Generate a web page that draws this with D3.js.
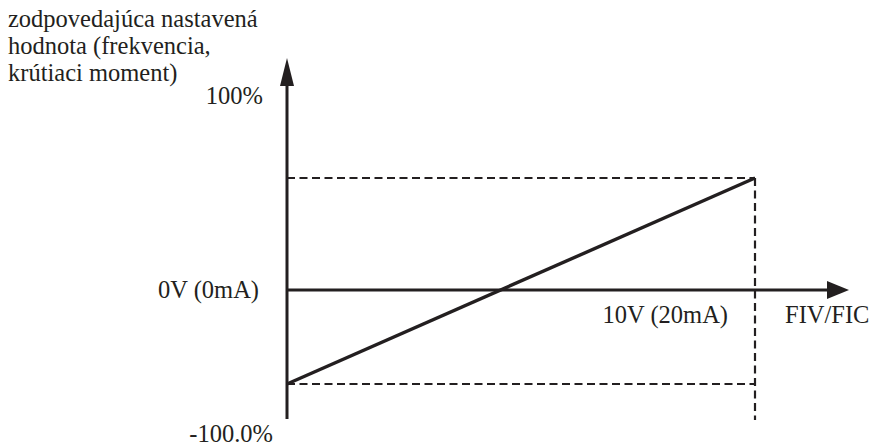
<!DOCTYPE html>
<html>
<head>
<meta charset="utf-8">
<script src="https://cdn.jsdelivr.net/npm/d3@7"></script>
<style>
html,body{margin:0;padding:0;background:#fff;}
svg{display:block;}
text{font-family:"Liberation Serif","Times New Roman",serif;fill:#231f20;}
</style>
</head>
<body>
<svg id="chart" width="871" height="446"></svg>
<script>
// Data
const inputRange = [0, 10];            // V (0 .. 10V / 0 .. 20mA)
const setpointLevels = [-100, 0, 100]; // % of setpoint
const linePoints = [                    // characteristic line: input V -> setpoint %
  {v: 0, p: -100},
  {v: 10, p: 100}
];
const yAxisTitle = ["zodpovedajúca nastavená", "hodnota (frekvencia,", "krútiaci moment)"];
const xAxisTitle = "FIV/FIC";
const xTickLabels = ["0V (0mA)", "10V (20mA)"];
const yTickLabels = ["100%", "-100.0%"];

const svg = d3.select("#chart");
const ink = "#231f20";

const x = d3.scaleLinear().domain(inputRange).range([287, 755]);
const y = d3.scaleLinear().domain(setpointLevels).range([384, 290, 178]);

const x0 = x(0), y0 = y(0);

// dashed rectangle (range box)
const dash = "8,4.5";
svg.append("line").attr("x1", x0).attr("x2", x(10)).attr("y1", y(100)).attr("y2", y(100))
  .attr("stroke", ink).attr("stroke-width", 2.2).attr("stroke-dasharray", dash);
svg.append("line").attr("x1", x0).attr("x2", x(10)).attr("y1", y(-100)).attr("y2", y(-100))
  .attr("stroke", ink).attr("stroke-width", 2.2).attr("stroke-dasharray", dash);
svg.append("line").attr("x1", x(10)).attr("x2", x(10)).attr("y1", y(100)).attr("y2", 420)
  .attr("stroke", ink).attr("stroke-width", 2.2).attr("stroke-dasharray", dash);

// axes
svg.append("line").attr("x1", x0).attr("x2", x0).attr("y1", 419).attr("y2", 80)
  .attr("stroke", ink).attr("stroke-width", 3);
svg.append("path").attr("d", `M${x0},58 L${x0-7},86 L${x0+7},86 Z`).attr("fill", ink);

svg.append("line").attr("x1", x0).attr("x2", 830).attr("y1", y0).attr("y2", y0)
  .attr("stroke", ink).attr("stroke-width", 3);
svg.append("path").attr("d", `M849,${y0} L827,${y0-9} L827,${y0+9} Z`).attr("fill", ink);

// characteristic line
const line = d3.line().x(d => x(d.v)).y(d => y(d.p));
svg.append("path").datum(linePoints).attr("d", line)
  .attr("fill", "none").attr("stroke", ink).attr("stroke-width", 3.4);

// texts
const fs = 24.5;
const tt = svg.append("text").attr("font-size", fs);
yAxisTitle.forEach((s, i) => {
  tt.append("tspan").attr("x", 8).attr("y", 27 + i * 27).text(s);
});
svg.append("text").attr("font-size", fs).attr("x", 263).attr("y", 104).attr("text-anchor", "end").text(yTickLabels[0]);
svg.append("text").attr("font-size", fs).attr("x", 273).attr("y", 442).attr("text-anchor", "end").text(yTickLabels[1]);
svg.append("text").attr("font-size", fs).attr("x", 259).attr("y", 298).attr("text-anchor", "end").text(xTickLabels[0]);
svg.append("text").attr("font-size", fs).attr("x", 728).attr("y", 323).attr("text-anchor", "end").text(xTickLabels[1]);
svg.append("text").attr("font-size", fs).attr("x", 785).attr("y", 323).text(xAxisTitle);
</script>
</body>
</html>
